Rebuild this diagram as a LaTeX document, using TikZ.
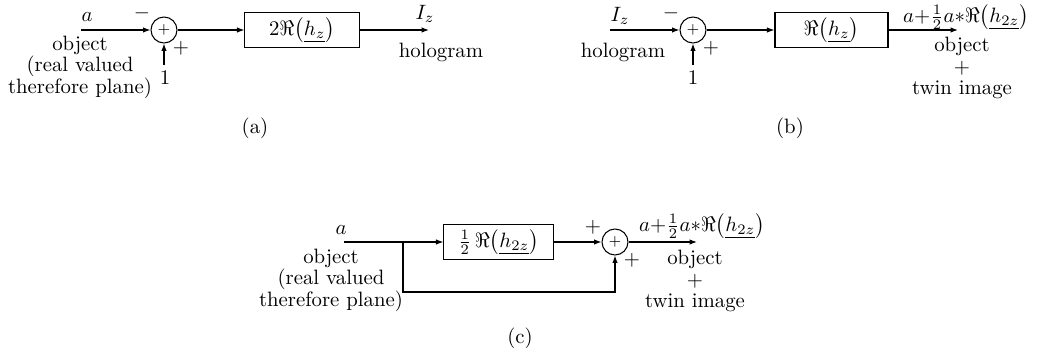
\documentclass[tikz,border=0pt]{standalone}
\usepackage{amsmath}
\usetikzlibrary{arrows.meta}

\begin{document}
\begin{tikzpicture}[x=0.4813pt, y=-0.4813pt,
    every node/.style={inner sep=1pt},
    blk/.style={draw, line width=0.5pt, minimum height=16.4pt, inner sep=0pt},
    sumnode/.style={draw, circle, line width=0.5pt, minimum size=12.5pt,
                    inner sep=0pt, font=\scriptsize},
    sig/.style={line width=0.5pt, -{Latex[length=3.6pt,width=2.6pt]}},
    wire/.style={line width=0.5pt},
    lbl/.style={align=center, inner sep=0pt, font=\fontsize{10}{10.4}\selectfont},
    res/.style={inner sep=0pt},
  ]
  \useasboundingbox (0,0) rectangle (1037,354);

  % (a)
  \coordinate (ina) at (81,30);
  \node[sumnode] (suma) at (164,30) {$+$};
  \node[blk, minimum width=54.9pt] (blka) at (302,30) {$2\Re\bigl(\underline{h_z}\bigr)$};
  \coordinate (outa) at (429,30);
  \coordinate (onea) at (164,65);
  \draw[sig] (ina) -- (suma);
  \draw[sig] (suma) -- (blka);
  \draw[sig] (blka) -- (outa);
  \draw[sig] (onea) -- (suma);
  \node (aa) at (87,17) {$a$};
  \node (mina) at (142,13) {$-$};
  \node (plsa) at (181,48) {$+$};
  \node (1a) at (165,78) {$1$};
  \node[lbl] (obja) at (80,67) {object\\(real valued\\therefore plane)};
  \node (Iza) at (425,14) {$I_z$};
  \node (hola) at (441,52) {hologram};
  \node (capa) at (255,128) {(a)};

  % (b)
  \coordinate (inb) at (610,30);
  \node[sumnode] (sumb) at (693,30) {$+$};
  \node[blk, minimum width=54.4pt] (blkb) at (831.5,30) {$\Re\bigl(\underline{h_z}\bigr)$};
  \coordinate (outb) at (958,30);
  \coordinate (oneb) at (693,65);
  \draw[sig] (inb) -- (sumb);
  \draw[sig] (sumb) -- (blkb);
  \draw[sig] (blkb) -- (outb);
  \draw[sig] (oneb) -- (sumb);
  \node (Izb) at (620,16) {$I_z$};
  \node (holb) at (623,52) {hologram};
  \node (minb) at (671,13) {$-$};
  \node (plsb) at (711,48) {$+$};
  \node (1b) at (693,78) {$1$};
  \node[res] (resb) at (966,17) {$a{+}\frac{1}{2}a{*}\Re\bigl(\underline{h_{2z}}\bigr)$};
  \node[lbl] (objb) at (962,68) {object\\$+$\\twin image};
  \node (capb) at (790,128) {(b)};

  % (c)
  \coordinate (inc) at (344,242);
  \coordinate (brc) at (403,242);
  \coordinate (fbc) at (403,292);
  \node[blk, minimum width=52.5pt] (blkc) at (498.5,242) {$\frac{1}{2}\,\Re\bigl(\underline{h_{2z}}\bigr)$};
  \node[sumnode] (sumc) at (615,242) {$+$};
  \coordinate (outc) at (697,242);
  \draw[wire] (inc) -- (brc);
  \draw[sig] (brc) -- (blkc);
  \draw[sig] (blkc) -- (sumc);
  \draw[sig] (brc) -- (fbc) -| (sumc);
  \draw[sig] (sumc) -- (outc);
  \node (ac) at (341,230) {$a$};
  \node[lbl] (objc) at (331,280) {object\\(real valued\\therefore plane)};
  \node (plsc1) at (593,227) {$+$};
  \node (plsc2) at (632,260) {$+$};
  \node[res] (resc) at (702,226) {$a{+}\frac{1}{2}a{*}\Re\bigl(\underline{h_{2z}}\bigr)$};
  \node[lbl] (objc2) at (695,281) {object\\$+$\\twin image};
  \node (capc) at (520,338) {(c)};
\end{tikzpicture}
\end{document}
